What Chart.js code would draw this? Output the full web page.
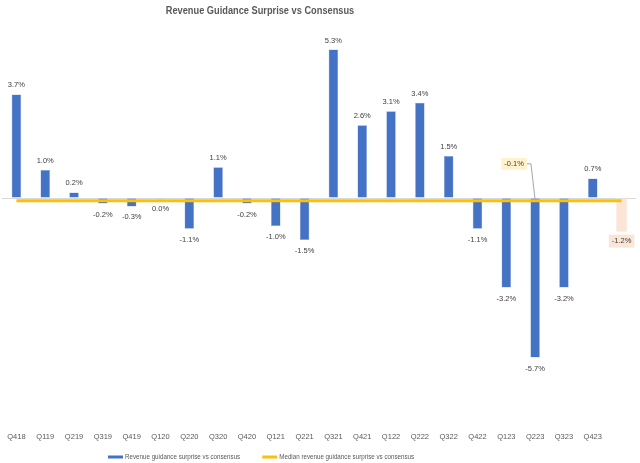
<!DOCTYPE html>
<html>
<head>
<meta charset="utf-8">
<script src="https://cdn.jsdelivr.net/npm/chart.js@4"></script>
<style>
  html, body { margin: 0; padding: 0; background: #fff; }
  #wrap { width: 640px; height: 463px; }
</style>
</head>
<body>
<div id="wrap"><canvas id="guidanceChart" width="640" height="463"></canvas></div>
<script>
// datos
var quarters = ['Q418', 'Q119', 'Q219', 'Q319', 'Q419', 'Q120', 'Q220', 'Q320', 'Q420', 'Q121', 'Q221',
    'Q321', 'Q421', 'Q122', 'Q222', 'Q322', 'Q422', 'Q123', 'Q223', 'Q323', 'Q423', ''];
var surprise = [3.7, 1.0, 0.2, -0.2, -0.3, -0.03, -1.1, 1.1, -0.2, -1.0, -1.5,
    5.3, 2.6, 3.1, 3.4, 1.5, -1.1, -3.2, -5.7, -3.2, 0.7, null];
var outlook = [null, null, null, null, null, null, null, null, null, null, null,
    null, null, null, null, null, null, null, null, null, null, -1.2];
var medianSurprise = [-0.1, -0.1, -0.1, -0.1, -0.1, -0.1, -0.1, -0.1, -0.1, -0.1, -0.1,
    -0.1, -0.1, -0.1, -0.1, -0.1, -0.1, -0.1, -0.1, -0.1, -0.1, -0.1];
var medianLabelIndex = 18;
var chartTitle = 'Revenue Guidance Surprise vs Consensus';

var FONT = "'Liberation Sans', Arial, sans-serif";

function fmt(v) {
    if (Math.abs(v) < 0.05) return '0.0%';
    return v.toFixed(1) + '%';
}

// texto comprimido en horizontal (parecido a Calibri)
function narrowText(ctx, text, x, y, sx) {
    ctx.save();
    ctx.translate(x, y);
    ctx.scale(sx, 1);
    ctx.fillText(text, 0, 0);
    ctx.restore();
    return ctx.measureText(text).width * sx;
}

// titulo y leyenda dibujados a mano (posicion como en Excel)
var framePlugin = {
    id: 'frame',
    afterDraw: function (chart) {
        var ctx = chart.ctx;
        ctx.save();
        ctx.textBaseline = 'middle';
        ctx.font = 'bold 11px ' + FONT;
        ctx.fillStyle = '#595959';
        ctx.textAlign = 'center';
        narrowText(ctx, chartTitle, 260, 11, 0.84);

        ctx.font = '7.5px ' + FONT;
        ctx.textAlign = 'left';
        var items = [chart.data.datasets[0], chart.data.datasets[2]];
        var x = 108, y = 457;
        items.forEach(function (ds) {
            ctx.fillStyle = ds.backgroundColor;
            ctx.fillRect(x, y - 1.5, 15, 3);
            ctx.fillStyle = '#595959';
            var w = narrowText(ctx, ds.label, x + 17, y, 0.83);
            x += 17 + w + 22;
        });
        ctx.restore();
    }
};

// etiquetas de datos
var labelPlugin = {
    id: 'barLabels',
    afterDatasetsDraw: function (chart) {
        var ctx = chart.ctx;
        ctx.save();
        ctx.font = '7.5px ' + FONT;
        ctx.fillStyle = '#404040';
        ctx.textAlign = 'center';
        ctx.textBaseline = 'middle';

        var meta = chart.getDatasetMeta(0);
        meta.data.forEach(function (bar, i) {
            var v = surprise[i];
            if (v === null) return;
            var y = v >= 0 ? bar.y - 9 : bar.y + 11;
            if (Math.abs(v) < 0.05) y = bar.base + 10;
            ctx.fillText(fmt(v), bar.x, y);
        });

        // etiqueta del ultimo trimestre
        var m2 = chart.getDatasetMeta(1);
        var last = m2.data[outlook.length - 1];
        var t = fmt(outlook[outlook.length - 1]);
        var w = ctx.measureText(t).width + 6;
        ctx.fillStyle = '#fbe5d6';
        ctx.fillRect(last.x - w / 2, last.y + 3, w, 13);
        ctx.fillStyle = '#404040';
        ctx.fillText(t, last.x, last.y + 9.5);

        // etiqueta de la mediana con linea guia
        var m1 = chart.getDatasetMeta(2);
        var pt = m1.data[medianLabelIndex];
        var bx = pt.x - 21, by = pt.y - 37;
        var t2 = fmt(medianSurprise[medianLabelIndex]);
        var w2 = ctx.measureText(t2).width + 6;
        ctx.strokeStyle = '#a6a6a6';
        ctx.lineWidth = 1;
        ctx.beginPath();
        ctx.moveTo(bx + w2 / 2, by);
        ctx.lineTo(bx + w2 / 2 + 4, by);
        ctx.lineTo(pt.x, pt.y - 1);
        ctx.stroke();
        ctx.fillStyle = '#fff2cc';
        ctx.fillRect(bx - w2 / 2, by - 6, w2, 12);
        ctx.fillStyle = '#404040';
        ctx.fillText(t2, bx, by);
        ctx.restore();
    }
};

var ctx = document.getElementById('guidanceChart').getContext('2d');
new Chart(ctx, {
    type: 'bar',
    data: {
        labels: quarters,
        datasets: [{
            label: 'Revenue guidance surprise vs consensus',
            data: surprise,
            backgroundColor: '#4472c4',
            borderColor: '#8faadc',
            borderWidth: 0.5,
            barPercentage: 0.33,
            categoryPercentage: 1,
            grouped: false,
            order: 2
        }, {
            label: 'Outlook',
            data: outlook,
            backgroundColor: '#fbe5d6',
            barPercentage: 0.36,
            categoryPercentage: 1,
            grouped: false,
            order: 2
        }, {
            type: 'line',
            label: 'Median revenue guidance surprise vs consensus',
            data: medianSurprise,
            borderColor: '#ffc000',
            backgroundColor: '#ffc000',
            borderWidth: 3,
            pointRadius: 0,
            order: 1
        }]
    },
    options: {
        responsive: false,
        animation: false,
        layout: { padding: { left: 2, right: 4, top: 30, bottom: 20 } },
        plugins: {
            legend: { display: false },
            tooltip: { enabled: false }
        },
        scales: {
            x: {
                grid: { display: false },
                border: { display: false },
                ticks: {
                    color: '#595959',
                    font: { family: FONT, size: 7.5 },
                    maxRotation: 0,
                    autoSkip: false,
                    padding: 2
                }
            },
            y: {
                min: -8,
                max: 6,
                grid: {
                    color: function (c) { return c.tick.value === 0 ? '#d9d9d9' : 'rgba(0,0,0,0)'; },
                    drawTicks: false
                },
                border: { display: false },
                ticks: { display: false, stepSize: 1 }
            }
        }
    },
    plugins: [labelPlugin, framePlugin]
});
</script>
</body>
</html>
